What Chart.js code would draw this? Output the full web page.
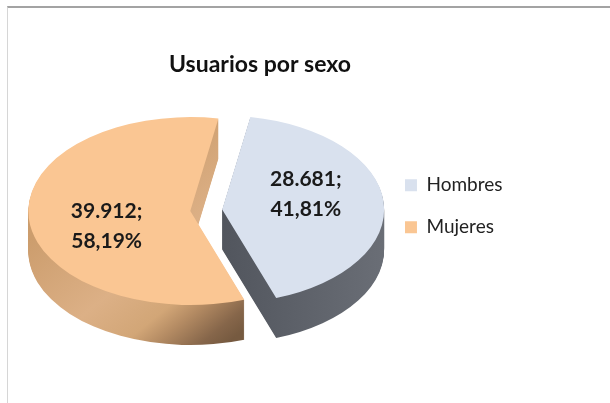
<!DOCTYPE html>
<html>
<head>
<meta charset="utf-8">
<script src="https://cdn.jsdelivr.net/npm/chart.js"></script>
<style>
  html, body { margin: 0; padding: 0; background: #fff; }
  #wrap { position: relative; width: 610px; height: 403px; }
  #frame { position: absolute; left: 7px; top: 6px; right: 0; bottom: 0;
           border-top: 2px solid #a3a3a3; border-left: 1px solid #d6d6d6; pointer-events: none; }
</style>
</head>
<body>
<div id="wrap">
  <canvas id="usuariosChart" width="610" height="403"></canvas>
  <div id="frame"></div>
</div>
<script>
const categories = [ 'Hombres', 'Mujeres' ]
const users = [ 28681, 39912 ]
const topColors = [ '#d9e1ee', '#fac693' ]

// look of the fake 3d
const tilt = 0.58
const depth = 40
const explode = 16
const labelTurn = -11 * Math.PI / 180

function fmtNumber( n ) {
  return String( n ).replace( /\B(?=(\d{3})+(?!\d))/g, '.' )
}

function fmtPercent( p ) {
  return p.toFixed( 2 ).replace( '.', ',' ) + '%'
}

// squash the arc into an ellipse, push it down i px and pull it out of the centre
function place( ctx, el, i ) {
  const half = ( el.startAngle + el.endAngle ) / 2
  const ex = Math.cos( half ) * explode
  const ey = Math.sin( half ) * explode
  ctx.translate( 0, el.y + i )
  ctx.scale( 1, tilt )
  ctx.translate( ex, ey - el.y )
  return { ex, ey }
}

// screen point -> coords inside the squashed context
function toUser( el, i, off, X, Y ) {
  return [ X - off.ex, ( Y - el.y - i ) / tilt + el.y - off.ey ]
}

function sideFill( ctx, el, j, i, off ) {
  const r = el.outerRadius
  let g
  if ( j === 1 ) {
    const a = toUser( el, i, off, el.x - 1.1 * r, el.y + 0.19 * r )
    const b = toUser( el, i, off, el.x + 0.23 * r, el.y + 0.74 * r )
    g = ctx.createLinearGradient( a[ 0 ], a[ 1 ], b[ 0 ], b[ 1 ] )
    g.addColorStop( 0, '#cc9d6d' )
    g.addColorStop( 0.45, '#dcb086' )
    g.addColorStop( 0.68, '#d2a677' )
    g.addColorStop( 0.78, '#b48b63' )
    g.addColorStop( 0.92, '#86664a' )
    g.addColorStop( 1, '#765a40' )
  } else {
    g = ctx.createLinearGradient( el.x - off.ex, 0, el.x + r, 0 )
    g.addColorStop( 0, '#4f535b' )
    g.addColorStop( 1, '#6a6e76' )
  }
  return g
}

function drawWith( el, ctx, color ) {
  const copy = Object.create( el )
  copy.options = Object.assign( {}, el.options, { backgroundColor: color, borderWidth: 0 } )
  copy.draw( ctx )
}

const pie3d = {
  id: 'pie3d',
  beforeDatasetDraw( chart, args ) {
    const ctx = chart.ctx
    const arcs = args.meta.data
    for ( let i = depth; i >= 1; i-- ) {
      arcs.forEach( ( el, j ) => {
        ctx.save()
        const off = place( ctx, el, i )
        drawWith( el, ctx, sideFill( ctx, el, j, i, off ) )
        ctx.restore()
      } )
    }
    arcs.forEach( ( el, j ) => {
      ctx.save()
      place( ctx, el, 0 )
      drawWith( el, ctx, topColors[ j ] )
      ctx.restore()
    } )
    return false
  },
  afterDatasetsDraw( chart ) {
    const ctx = chart.ctx
    const arcs = chart.getDatasetMeta( 0 ).data
    const total = users.reduce( ( acc, v ) => acc + v, 0 )
    ctx.save()
    ctx.font = 'bold 21px Lato'
    ctx.fillStyle = '#1a1a1a'
    ctx.textAlign = 'center'
    ctx.textBaseline = 'middle'
    arcs.forEach( ( el, j ) => {
      const half = ( el.startAngle + el.endAngle ) / 2 + labelTurn
      const d = el.outerRadius * 0.54 + explode
      const x = el.x + Math.cos( half ) * d
      const y = el.y + Math.sin( half ) * d * tilt
      ctx.fillText( fmtNumber( users[ j ] ) + ';', x, y - 15 )
      ctx.fillText( fmtPercent( users[ j ] / total * 100 ), x, y + 15 )
    } )
    ctx.restore()
  }
}

const baseLabels = ( Chart.overrides.pie && Chart.overrides.pie.plugins.legend.labels.generateLabels ) ||
  Chart.overrides.doughnut.plugins.legend.labels.generateLabels

new Chart( document.getElementById( 'usuariosChart' ), {
  type: 'pie',
  data: {
    labels: categories,
    datasets: [ {
      data: users,
      backgroundColor: topColors,
      borderWidth: 0
    } ]
  },
  options: {
    responsive: false,
    animation: false,
    rotation: 10,
    radius: 162,
    layout: { padding: { left: 7.5, right: 97.5, top: 0, bottom: 71 } },
    plugins: {
      title: {
        display: true,
        text: 'Usuarios por sexo',
        color: '#111',
        font: { family: 'Lato', size: 23, weight: 'bold' },
        padding: { top: 51, bottom: 10 }
      },
      legend: {
        position: 'right',
        title: {
          display: true,
          text: '',
          font: { size: 12 },
          padding: { top: 89, bottom: 0 }
        },
        labels: {
          boxWidth: 12,
          boxHeight: 12,
          padding: 0,
          color: '#222',
          font: { family: 'Lato', size: 19, lineHeight: 42 / 19 },
          generateLabels: ( chart ) => baseLabels( chart ).map( ( item ) => ( { ...item, text: [ item.text ] } ) )
        }
      },
      tooltip: { enabled: false }
    }
  },
  plugins: [ pie3d ]
} )
</script>
</body>
</html>
